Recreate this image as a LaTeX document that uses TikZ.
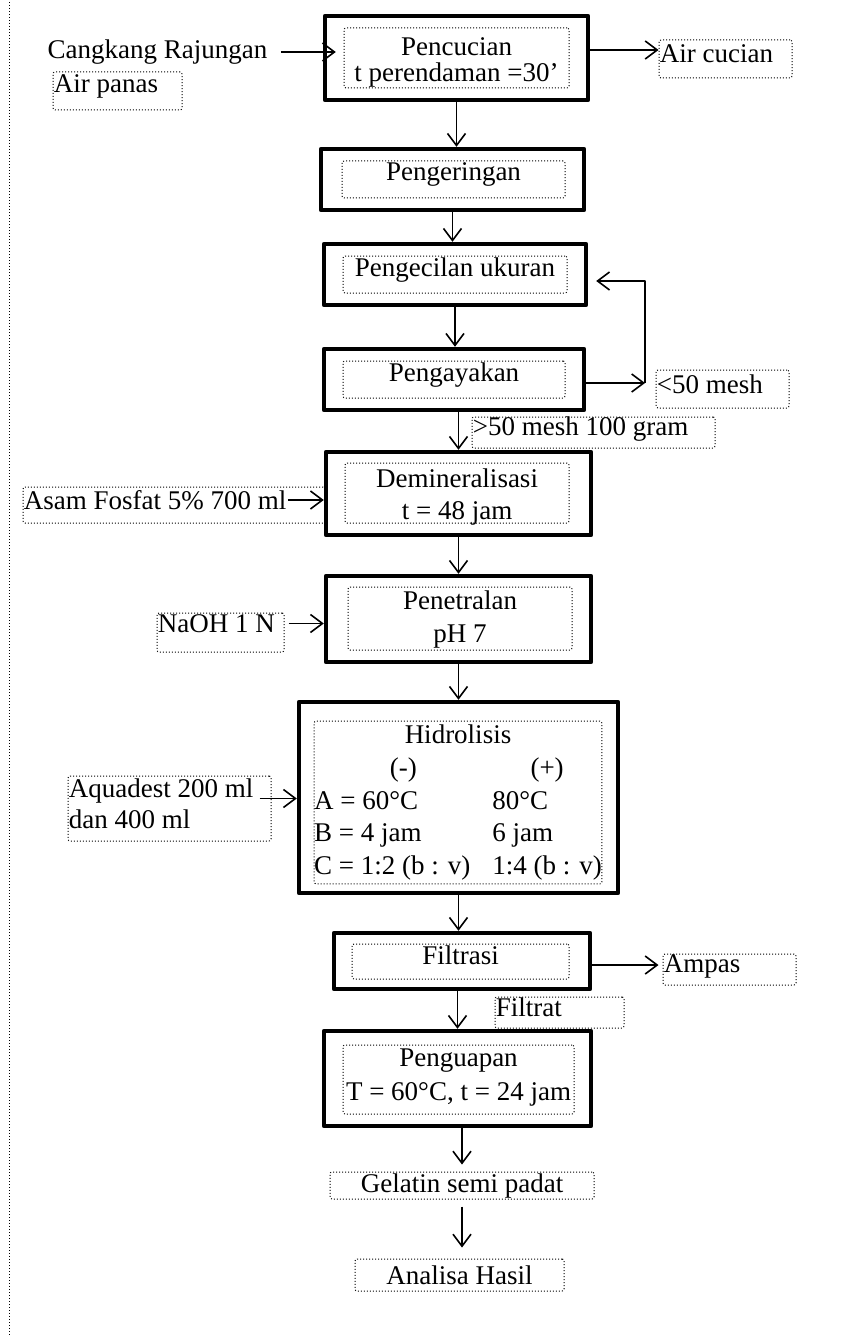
\documentclass[tikz,border=0pt]{standalone}
\usepackage{fontspec}
\setmainfont{Liberation Serif}
\usetikzlibrary{arrows.meta}

\begin{document}
\begin{tikzpicture}[x=0.5pt, y=-0.5pt, line join=round,
    font=\fontsize{13.5}{15.5}\selectfont,
    proses/.style={draw, line width=2.2pt, inner sep=0pt},
    isi/.style={draw, densely dotted, line width=0.5pt, rounded corners=1pt, inner sep=0pt},
    teks/.style={anchor=north, inner sep=0pt, align=center},
    bahan/.style={draw, densely dotted, line width=0.5pt, rounded corners=1pt, inner sep=0pt},
    bahanteks/.style={anchor=west, inner sep=0.5pt, yshift=2.5pt, align=left},
    panah/.style={-{Straight Barb[length=6pt, width=9pt]}, line width=0.8pt}]

    \useasboundingbox (0,0) rectangle (846,1337);

    % Left border
    \draw[densely dotted, line width=0.5pt] (9,2) -- (9,1337);

    % Process frames
    \node[proses, minimum width=131.5pt, minimum height=42pt]   (cuci)     at (456.5,58)    {};
    \node[proses, minimum width=131.5pt, minimum height=30.5pt] (kering)   at (452.5,179.5) {};
    \node[proses, minimum width=131pt,   minimum height=30.5pt] (kecil)    at (455,274.5)   {};
    \node[proses, minimum width=130pt,   minimum height=30.5pt] (ayak)     at (454,379.5)   {};
    \node[proses, minimum width=132.5pt, minimum height=41.5pt] (demin)    at (458.5,493.5) {};
    \node[proses, minimum width=132.5pt, minimum height=43pt]   (netral)   at (458.5,619)   {};
    \node[proses, minimum width=159.5pt, minimum height=95.5pt] (hidro)    at (458.5,797.5) {};
    \node[proses, minimum width=128pt,   minimum height=28pt]   (filtrasi) at (462,961)     {};
    \node[proses, minimum width=133.5pt, minimum height=47.5pt] (uap)      at (457.5,1078.5) {};

    % Dotted inner boxes with text
    \node[isi, minimum width=112.5pt, minimum height=30pt,
          label={[teks, yshift=-5pt]north:{Pencucian\\[-2.5pt]t perendaman =30’}}] (cuciIsi) at (456.5,58) {};
    \node[isi, minimum width=111.5pt, minimum height=18.5pt,
          label={[teks, yshift=-1pt]north:Pengeringan}] (keringIsi) at (453.5,179.5) {};
    \node[isi, minimum width=112pt, minimum height=18.5pt,
          label={[teks, yshift=-1pt]north:Pengecilan ukuran}] (kecilIsi) at (455,274.5) {};
    \node[isi, minimum width=111pt, minimum height=18.5pt,
          label={[teks, yshift=-1pt]north:Pengayakan}] (ayakIsi) at (454,379.5) {};
    \node[isi, minimum width=112pt, minimum height=30pt,
          label={[teks, yshift=-3pt]north:{Demineralisasi\\[0.5pt]t = 48 jam}}] (deminIsi) at (457,493) {};
    \node[isi, minimum width=112pt, minimum height=31.5pt,
          label={[teks, yshift=-2pt]north:{Penetralan\\[1pt]pH 7}}] (netralIsi) at (460,618.5) {};
    \node[isi, minimum width=141pt, minimum height=80.5pt] (hidroIsi) at (458,802.5)
      {\renewcommand{\arraystretch}{1.05}%
       \begin{tabular}{@{}l@{\hspace{11pt}}l@{}}
         \multicolumn{2}{c}{Hidrolisis}\\
         \multicolumn{1}{c}{(-)} & \multicolumn{1}{c}{(+)}\\
         A = 60°C & 80°C\\
         B = 4 jam & 6 jam\\
         C = 1:2 (b : v) & 1:4 (b : v)
       \end{tabular}};
    \node[isi, minimum width=108.5pt, minimum height=17.5pt,
          label={[teks, yshift=-1pt]north:Filtrasi}] (filtrasiIsi) at (460.5,961.5) {};
    \node[isi, minimum width=115.5pt, minimum height=34.5pt,
          label={[teks, yshift=-2pt]north:{Penguapan\\[1.5pt]T = 60°C, t = 24 jam}}] (uapIsi) at (458.5,1079.5) {};

    % Materials and outputs
    \node[inner sep=0pt] (cangkang) at (157.5,52) {Cangkang Rajungan};
    \node[bahan, minimum width=64.5pt, minimum height=19pt,
          label={[bahanteks]west:Air panas}] (airpanas) at (117.5,91) {};
    \node[bahan, minimum width=66.5pt, minimum height=19pt,
          label={[bahanteks]west:Air cucian}] (aircuci) at (725.5,59) {};
    \node[bahan, minimum width=66.5pt, minimum height=19pt,
          label={[bahanteks]west:<50 mesh}] (kurang) at (722.5,389) {};
    \node[bahan, minimum width=121.5pt, minimum height=15.5pt,
          label={[bahanteks, yshift=-1pt]west:>50 mesh 100 gram}] (lebih) at (593.5,432.5) {};
    \node[bahan, minimum width=151pt, minimum height=18pt,
          label={[bahanteks, name=asamT]west:Asam Fosfat 5\% 700 ml}] (asam) at (174,505) {};
    \node[bahan, minimum width=63.5pt, minimum height=19.5pt,
          label={[bahanteks, yshift=2pt]west:NaOH 1 N}] (naoh) at (220.5,632.5) {};
    \node[bahan, minimum width=101.5pt, minimum height=32.5pt,
          label={[bahanteks]west:{Aquadest 200 ml\\dan 400 ml}}] (aquades) at (169.5,808.5) {};
    \node[bahan, minimum width=66.5pt, minimum height=15.5pt,
          label={[bahanteks, yshift=-1pt]west:Ampas}] (ampas) at (729.5,969.5) {};
    \node[bahan, minimum width=64.5pt, minimum height=15.5pt,
          label={[bahanteks]west:Filtrat}] (filtrat) at (559.5,1012.5) {};
    \node[bahan, minimum width=132pt, minimum height=13.5pt] (gelatin) at (462,1185.5) {Gelatin semi padat};
    \node[bahan, minimum width=104.5pt, minimum height=16pt] (analisa) at (459.5,1275) {Analisa Hasil};

    % Loop back for coarse particles
    \coordinate (sudut) at (645,383);
    \coordinate (balik) at (645,281);

    % Arrows
    \draw[panah] ([xshift=6.5pt]cangkang.east) -- ([xshift=6.5pt]cangkang.east -| cuci.west);
    \draw[panah] ([yshift=4pt]cuci.east) -- ([yshift=4pt]cuci.east -| aircuci.west);
    \draw[panah] (cuci.south) -- (cuci.south |- kering.north);
    \draw[panah] (kering.south) -- (kering.south |- kecil.north);
    \draw[panah] (kecil.south) -- (kecil.south |- ayak.north);
    \draw[panah] (ayak.east |- sudut) -- (sudut);
    \draw[panah, shorten >=4pt] (sudut) -- (balik) -- (balik -| kecil.east);
    \draw[panah] (ayak.south -| demin.north) -- (demin.north);
    \draw[panah] (asamT.east) -- (asamT.east -| demin.west);
    \draw[panah] (demin.south) -- (netral.north);
    \draw[panah] ([xshift=2pt, yshift=4.5pt]naoh.east) -- ([yshift=4.5pt]naoh.east -| netral.west);
    \draw[panah] (netral.south) -- (hidro.north);
    \draw[panah] ([xshift=-6pt, yshift=5pt]aquades.east) -- ([yshift=5pt]aquades.east -| hidro.west);
    \draw[panah] (hidro.south) -- (hidro.south |- filtrasi.north);
    \draw[panah, shorten >=2pt] ([yshift=-2pt]filtrasi.east) -- ([yshift=-2pt]filtrasi.east -| ampas.west);
    \draw[panah] (uap.north |- filtrasi.south) -- (uap.north);
    \draw[panah, shorten >=3.5pt] (gelatin.north |- uap.south) -- (gelatin.north);
    \draw[panah, shorten <=3.5pt, shorten >=5.5pt] (gelatin.south) -- (gelatin.south |- analisa.north);

\end{tikzpicture}
\end{document}
